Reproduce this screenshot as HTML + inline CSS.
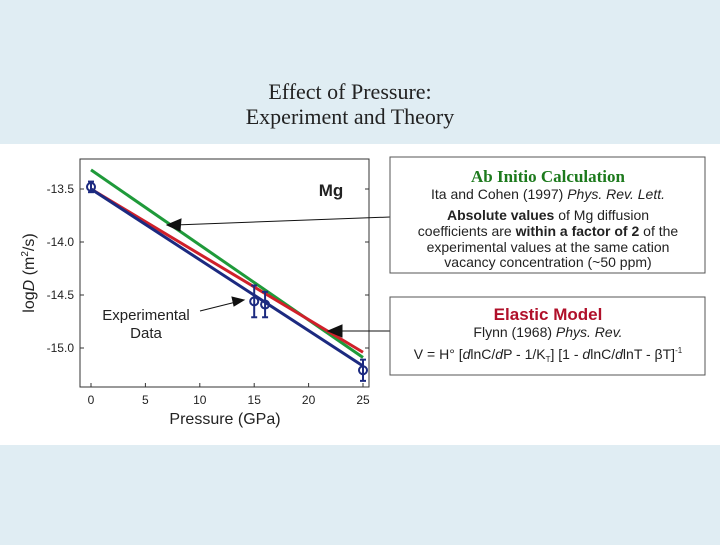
<!DOCTYPE html>
<html><head><meta charset="utf-8"><style>
body{margin:0;width:720px;height:540px;background:#e0edf3;overflow:hidden;font-family:"Liberation Sans",sans-serif}
</style></head><body>
<svg width="720" height="540" xmlns="http://www.w3.org/2000/svg">
<rect x="0" y="0" width="720" height="540" fill="#e0edf3"/>
<rect x="0" y="144" width="720" height="301" fill="#ffffff"/>
<g font-family="Liberation Serif, serif" font-size="22" fill="#222" text-anchor="middle">
<text x="350" y="99">Effect of Pressure:</text>
<text x="350" y="124">Experiment and Theory</text>
</g>
<rect x="80" y="159" width="289" height="228" fill="none" stroke="#333" stroke-width="1"/>
<g id="axes" font-size="12" fill="#222"></g>
<g id="marks"></g>
<text x="331" y="196" font-size="17" font-weight="bold" text-anchor="middle" fill="#222">Mg</text>
<g font-size="15" fill="#222" text-anchor="middle">
<text x="146" y="320">Experimental</text><text x="146" y="338">Data</text></g>
<g stroke="#111" stroke-width="1" fill="#111">
<line x1="200" y1="311" x2="236" y2="302"/><polygon points="244,300 232,297 234,306"/>
<line x1="390" y1="217" x2="175" y2="225"/><polygon points="167,225 181,219 180,231"/>
<line x1="390" y1="331" x2="336" y2="331"/><polygon points="328,331 342,325 342,337"/>
</g>
<rect x="390" y="157" width="315" height="116" fill="#fff" stroke="#555"/>
<g text-anchor="middle" fill="#222" font-size="14">
<text x="548" y="182" font-family="Liberation Serif, serif" font-weight="bold" font-size="17" fill="#1d7a1d">Ab Initio Calculation</text>
<text x="548" y="199">Ita and Cohen (1997) <tspan font-style="italic">Phys. Rev. Lett.</tspan></text>
<text x="548" y="220"><tspan font-weight="bold">Absolute values</tspan> of Mg diffusion</text>
<text x="548" y="236">coefficients are <tspan font-weight="bold">within a factor of 2</tspan> of the</text>
<text x="548" y="252">experimental values at the same cation</text>
<text x="548" y="267">vacancy concentration (~50 ppm)</text>
</g>
<rect x="390" y="297" width="315" height="78" fill="#fff" stroke="#555"/>
<g text-anchor="middle" fill="#222" font-size="14">
<text x="548" y="320" font-weight="bold" font-size="17" fill="#b0102a">Elastic Model</text>
<text x="548" y="337">Flynn (1968) <tspan font-style="italic">Phys. Rev.</tspan></text>
<text x="548" y="359">V = H° [<tspan font-style="italic">d</tspan>lnC/<tspan font-style="italic">d</tspan>P - 1/K<tspan font-size="8" dy="3">T</tspan><tspan dy="-3">] [1 - </tspan><tspan font-style="italic">d</tspan>lnC/<tspan font-style="italic">d</tspan>lnT - βT]<tspan font-size="8" dy="-6">-1</tspan></text>
</g>
<text x="225" y="424" font-size="16" text-anchor="middle" fill="#222">Pressure (GPa)</text>
<text transform="translate(34,273) rotate(-90)" font-size="16" text-anchor="middle" fill="#222">log<tspan font-style="italic">D</tspan> (m<tspan font-size="10" dy="-6">2</tspan><tspan dy="6">/s)</tspan></text>
</svg>
<script>
const xTicks=[0,5,10,15,20,25];
const yTicks=[-13.5,-14.0,-14.5,-15.0];
const yTickLabels=["-13.5","-14.0","-14.5","-15.0"];
const lineX=[0,25];
const greenY=[-13.32,-15.09];
const redY=[-13.5,-15.04];
const blueY=[-13.5,-15.17];
const dataP=[0,15,16,25];
const dataD=[-13.48,-14.56,-14.59,-15.21];
const dataErr=[0.05,0.15,0.12,0.1];
const X=v=>91+v*10.88;
const Y=v=>348-(v+15)*106;
const NS="http://www.w3.org/2000/svg";
const ax=document.getElementById('axes'),mk=document.getElementById('marks');
function mkEl(t,a,p){const e=document.createElementNS(NS,t);for(const k in a)e.setAttribute(k,a[k]);p.appendChild(e);return e;}
xTicks.forEach(v=>{
 const l=mkEl('line',{x1:X(v),x2:X(v),y1:387,y2:383,stroke:'#333'},ax);
 
 
 const t=mkEl('text',{x:X(v),y:404,'text-anchor':'middle'},ax);t.textContent=v;
 
 
});
yTicks.forEach((v,i)=>{
 const l=mkEl('line',{x1:80,x2:84,y1:Y(v),y2:Y(v),stroke:'#333'},ax);
 
 
 const r=mkEl('line',{x1:365,x2:369,y1:Y(v),y2:Y(v),stroke:'#333'},ax);
 
 
 const t=mkEl('text',{x:74,y:Y(v)+4,'text-anchor':'end'},ax);t.textContent=yTickLabels[i];
 
 
});
[[greenY,'#1f9a3a','ab-initio-line'],[redY,'#d0202a','elastic-model-line'],[blueY,'#1c2a80','experimental-fit-line']].forEach(([ys,c,n])=>{
 const l=mkEl('line',{x1:X(lineX[0]),y1:Y(ys[0]),x2:X(lineX[1]),y2:Y(ys[1]),stroke:c,'stroke-width':3},mk);
 
 
});
dataP.forEach((p,i)=>{
 const g=mkEl('g',{stroke:'#1c2a80','stroke-width':2,fill:'none'},mk);
 
 
 const x=X(p),y1=Y(dataD[i]+dataErr[i]),y2=Y(dataD[i]-dataErr[i]);
 mkEl('line',{x1:x,x2:x,y1:y1,y2:y2},g);
 mkEl('line',{x1:x-3,x2:x+3,y1:y1,y2:y1},g);
 mkEl('line',{x1:x-3,x2:x+3,y1:y2,y2:y2},g);
 mkEl('circle',{cx:x,cy:Y(dataD[i]),r:4},g);
});
</script>
</body></html>
